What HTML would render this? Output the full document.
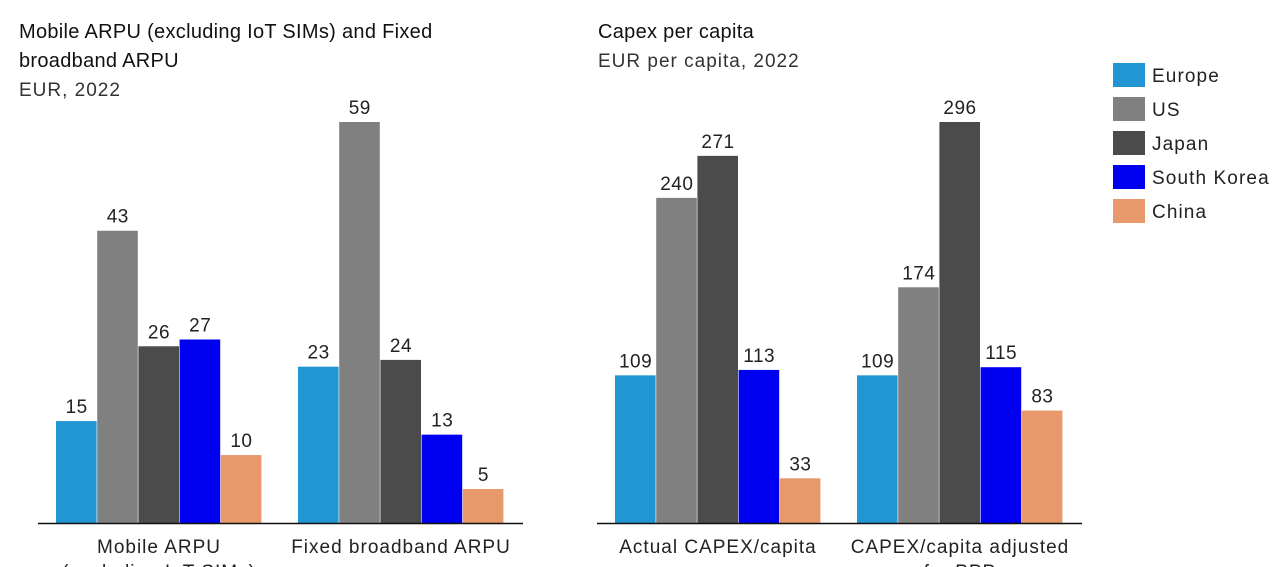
<!DOCTYPE html>
<html><head><meta charset="utf-8"><style>
html,body{margin:0;padding:0;background:#fff;}
svg{display:block;font-family:"Liberation Sans",sans-serif;}
</style></head><body>
<svg id="c" width="1280" height="567" viewBox="0 0 1280 567" xmlns="http://www.w3.org/2000/svg">
<g font-size="19" fill="#111">
<text x="19" y="38" font-size="20" letter-spacing="0.3">Mobile ARPU (excluding IoT SIMs) and Fixed</text>
<text x="19" y="67" font-size="20" letter-spacing="0.3">broadband ARPU</text>
<text x="19" y="96" letter-spacing="1" fill="#333">EUR, 2022</text>
</g>
<g font-size="19" fill="#111">
<text x="598" y="38" font-size="20" letter-spacing="0.3">Capex per capita</text>
<text x="598" y="67" letter-spacing="1" fill="#333">EUR per capita, 2022</text>
</g>
<g id="bars"></g>
<g id="legend"></g>
</svg>
<script>
const series = ["Europe","US","Japan","South Korea","China"];
const colors = ["#2196d3","#808080","#4b4b4b","#0000f0","#e8996b"];
const leftCats = ["Mobile ARPU","Fixed broadband ARPU"];
const leftCats2 = ["(excluding IoT SIMs)",""];
const leftVals = [[15,43,26,27,10],[23,59,24,13,5]];
const rightCats = ["Actual CAPEX/capita","CAPEX/capita adjusted"];
const rightCats2 = ["","for PPP"];
const rightVals = [[109,240,271,113,33],[109,174,296,115,83]];

const NS="http://www.w3.org/2000/svg";
const g=document.getElementById('bars');
function mk(tag,attrs,parent){const e=document.createElementNS(NS,tag);for(const k in attrs)e.setAttribute(k,attrs[k]);(parent||g).appendChild(e);return e;}

function drawPanel(prefix,cats,cats2,vals,axisX0,axisX1,groupStarts,maxV){
  const base=523, top=122;
  const y=v=>base-(v/maxV)*(base-top);
  const bw=41.2;
  vals.forEach((grp,gi)=>{
    grp.forEach((v,si)=>{
      const x=groupStarts[gi]+si*bw;
      const r=mk('rect',{x:x,y:y(v),width:bw-0.6,height:base-y(v),fill:colors[si]});
      
      
      const t=mk('text',{x:x+bw/2,y:y(v)-8,'text-anchor':'middle','font-size':19,'letter-spacing':0.5,fill:'#222'});
      t.textContent=v;
      
      
    });
    const cx=groupStarts[gi]+bw*2.5;
    const c=mk('text',{x:cx,y:553,'text-anchor':'middle','font-size':19,'letter-spacing':1,fill:'#222'});
    c.textContent=cats[gi];
    
    
    if(cats2[gi]){const c2=mk('text',{x:cx,y:578,'text-anchor':'middle','font-size':19,'letter-spacing':1,fill:'#222'});
    c2.textContent=cats2[gi];
    
    }
  });
  const ax=mk('line',{x1:axisX0,x2:axisX1,y1:523.5,y2:523.5,stroke:'#111','stroke-width':1.5});
  
  
}
drawPanel('left',leftCats,leftCats2,leftVals,38,523,[56,298],59);
drawPanel('right',rightCats,rightCats2,rightVals,597,1082,[615,857],296);

const lg=document.getElementById('legend');
series.forEach((s,i)=>{
  const r=mk('rect',{x:1113,y:63+i*34,width:32,height:24,fill:colors[i]},lg);
  
  
  const t=mk('text',{x:1152,y:82+i*34,'font-size':19,'letter-spacing':1.1,fill:'#222'},lg);
  t.textContent=s;
  
  
});
</script>
</body></html>
